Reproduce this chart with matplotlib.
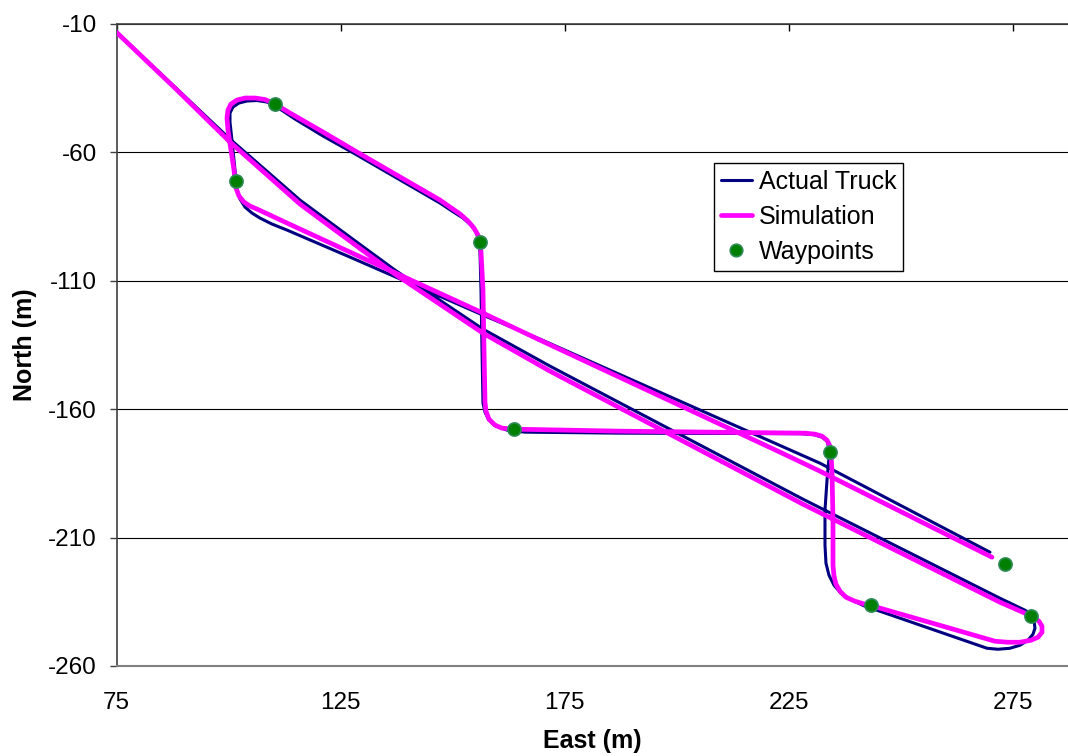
import matplotlib
matplotlib.use("Agg")
import matplotlib.pyplot as plt

plt.rcParams['font.family'] = ['Liberation Sans', 'DejaVu Sans']

# Recorded truck track (East, North in metres)
truck_east = [73.95, 88.46, 100.29, 115.91, 127.07, 137.12, 156.76, 171.72, 228.19, 272.16,
              277.75, 279.08, 279.75, 279.97, 279.53, 278.41, 276.63, 274.39, 271.71, 269.26,
              244.70, 242.03, 239.13, 236.67, 235.11, 233.99, 233.32, 233.10, 233.10, 233.55,
              233.99, 233.99, 233.55, 232.43, 230.64, 227.52, 187.34, 166.13, 162.12, 159.66,
              158.10, 157.21, 156.76, 156.54, 156.32, 156.09, 155.87, 155.20, 154.08, 152.30,
              149.84, 147.16, 128.64, 121.05, 114.80, 112.12, 110.33, 108.55, 106.32, 104.08,
              102.30, 100.96, 100.29, 100.29, 100.96, 101.63, 101.85, 102.52, 103.64, 105.20,
              106.99, 109.67, 113.02, 127.07, 156.76, 169.49, 231.98, 269.93]
truck_north = [-11.56, -35.32, -54.80, -78.56, -92.98, -105.83, -128.82, -143.23, -195.04, -233.61,
               -238.28, -239.84, -242.18, -245.29, -247.63, -249.97, -251.92, -253.09, -253.48, -253.09,
               -238.28, -236.72, -234.39, -231.66, -228.54, -224.65, -219.97, -212.96, -199.32, -187.64,
               -179.07, -175.17, -172.45, -170.89, -169.92, -169.53, -169.33, -168.94, -168.16, -166.60,
               -164.27, -161.15, -157.64, -137.00, -113.62, -98.82, -94.53, -91.03, -88.30, -85.57,
               -82.84, -79.73, -61.03, -53.63, -47.01, -43.89, -41.95, -40.39, -39.80, -39.99,
               -40.77, -42.33, -44.67, -48.18, -59.09, -70.77, -74.67, -78.17, -81.29, -83.63,
               -85.58, -87.91, -90.25, -100.77, -123.36, -132.71, -181.02, -215.69]

# Simulated vehicle track
sim_east = [73.95, 88.46, 100.29, 115.91, 127.07, 137.12, 156.76, 171.72, 228.19, 272.16,
            277.75, 279.53, 280.87, 281.54, 281.54, 280.65, 279.08, 276.63, 273.95, 271.05,
            261.00, 244.70, 242.03, 239.80, 237.79, 236.45, 235.56, 235.11, 234.89, 234.89,
            234.66, 234.44, 234.21, 233.55, 232.43, 230.87, 228.64, 187.34, 163.68, 161.00,
            159.44, 158.10, 157.43, 157.21, 156.99, 156.76, 156.32, 156.09, 155.65, 154.75,
            153.41, 151.63, 149.40, 147.16, 128.64, 121.05, 113.68, 110.33, 108.10, 105.87,
            103.64, 101.85, 100.51, 99.84, 99.62, 99.84, 100.51, 101.18, 101.40, 101.63,
            102.30, 103.41, 104.75, 106.32, 109.22, 113.02, 127.07, 156.76, 169.49, 223.06,
            231.98, 270.37]
sim_north = [-11.56, -35.71, -55.97, -80.12, -94.53, -107.39, -130.38, -145.18, -196.99, -235.17,
             -239.45, -241.01, -242.56, -244.51, -246.85, -248.80, -249.97, -250.75, -250.75, -250.36,
             -245.29, -237.12, -235.95, -234.78, -233.22, -230.88, -228.15, -225.04, -220.75, -203.22,
             -183.74, -177.90, -174.39, -172.06, -170.50, -169.72, -169.33, -168.55, -167.77, -167.38,
             -166.21, -163.88, -160.76, -157.25, -137.00, -113.62, -98.82, -94.92, -92.20, -89.47,
             -86.74, -83.97, -81.29, -78.56, -59.86, -52.07, -44.67, -41.16, -39.41, -38.83,
             -38.83, -39.61, -41.17, -43.50, -46.62, -51.29, -59.09, -66.88, -70.77, -73.89,
             -77.00, -79.34, -80.90, -82.07, -84.41, -87.52, -98.82, -122.58, -133.10, -176.73,
             -184.13, -217.64]

# Planned waypoints
wp_east = [110.3, 101.6, 156.1, 163.7, 234.2, 243.4, 279.1, 273.3]
wp_north = [-41.2, -71.1, -94.9, -167.7, -176.6, -236.2, -240.4, -220.1]

x_ticks = [75, 125, 175, 225, 275]
y_ticks = [-10, -60, -110, -160, -210, -260]

fig = plt.figure(figsize=(10.68, 7.56), dpi=100)
ax = fig.add_axes([116.7 / 1068, 1 - 666 / 756, 1 - 116.7 / 1068, 642 / 756])

line_kw = dict(solid_joinstyle='round', solid_capstyle='round')
ax.plot(truck_east, truck_north, color='#000080', lw=2.2, label='Actual Truck',
        zorder=3, **line_kw)
ax.plot(sim_east, sim_north, color='#FF00FF', lw=3.4, label='Simulation',
        zorder=4, **line_kw)
ax.plot(wp_east, wp_north, ls='none', marker='o', ms=9.5, mfc='#007F00',
        mec='#2E8B57', mew=1.2, label='Waypoints', zorder=5)

ax.set_xlim(75, 75 + (1068 - 116.7) / 4.48)
ax.set_ylim(-260, -10)
ax.set_xticks(x_ticks)
ax.set_yticks(y_ticks)
ax.set_xticklabels([str(v) for v in x_ticks])
ax.set_yticklabels([str(v) for v in y_ticks])

ax.yaxis.grid(True, color='black', lw=0.8)
ax.set_axisbelow(True)

ax.spines['right'].set_visible(False)
ax.spines['left'].set_color('#404040')
ax.spines['left'].set_linewidth(1.2)
ax.spines['top'].set_color('#404040')
ax.spines['top'].set_linewidth(1.2)
ax.spines['bottom'].set_color('#808080')
ax.spines['bottom'].set_linewidth(1.5)

ax.tick_params(axis='x', which='both', top=True, bottom=False, labeltop=False,
               labelbottom=True, direction='in', length=5, width=1, color='black',
               labelsize=17.5, pad=18.5)
ax.tick_params(axis='y', direction='out', length=5, width=1, color='#404040',
               labelsize=17.5, pad=9.4)

ax.set_xlabel('East (m)', fontsize=18, fontweight='bold', labelpad=11)
ax.set_ylabel('North (m)', fontsize=18, fontweight='bold', labelpad=8)

leg = ax.legend(loc='upper left', bbox_to_anchor=(714 / 1068, 1 - 163 / 756),
                bbox_transform=fig.transFigure, borderaxespad=0, fontsize=18,
                frameon=True, fancybox=False, framealpha=1, edgecolor='black',
                handlelength=1.24, handletextpad=0.28, labelspacing=0.44,
                borderpad=0.27, markerscale=0.95)
leg.get_frame().set_linewidth(1.0)

fig.savefig('out.png', dpi=100)
